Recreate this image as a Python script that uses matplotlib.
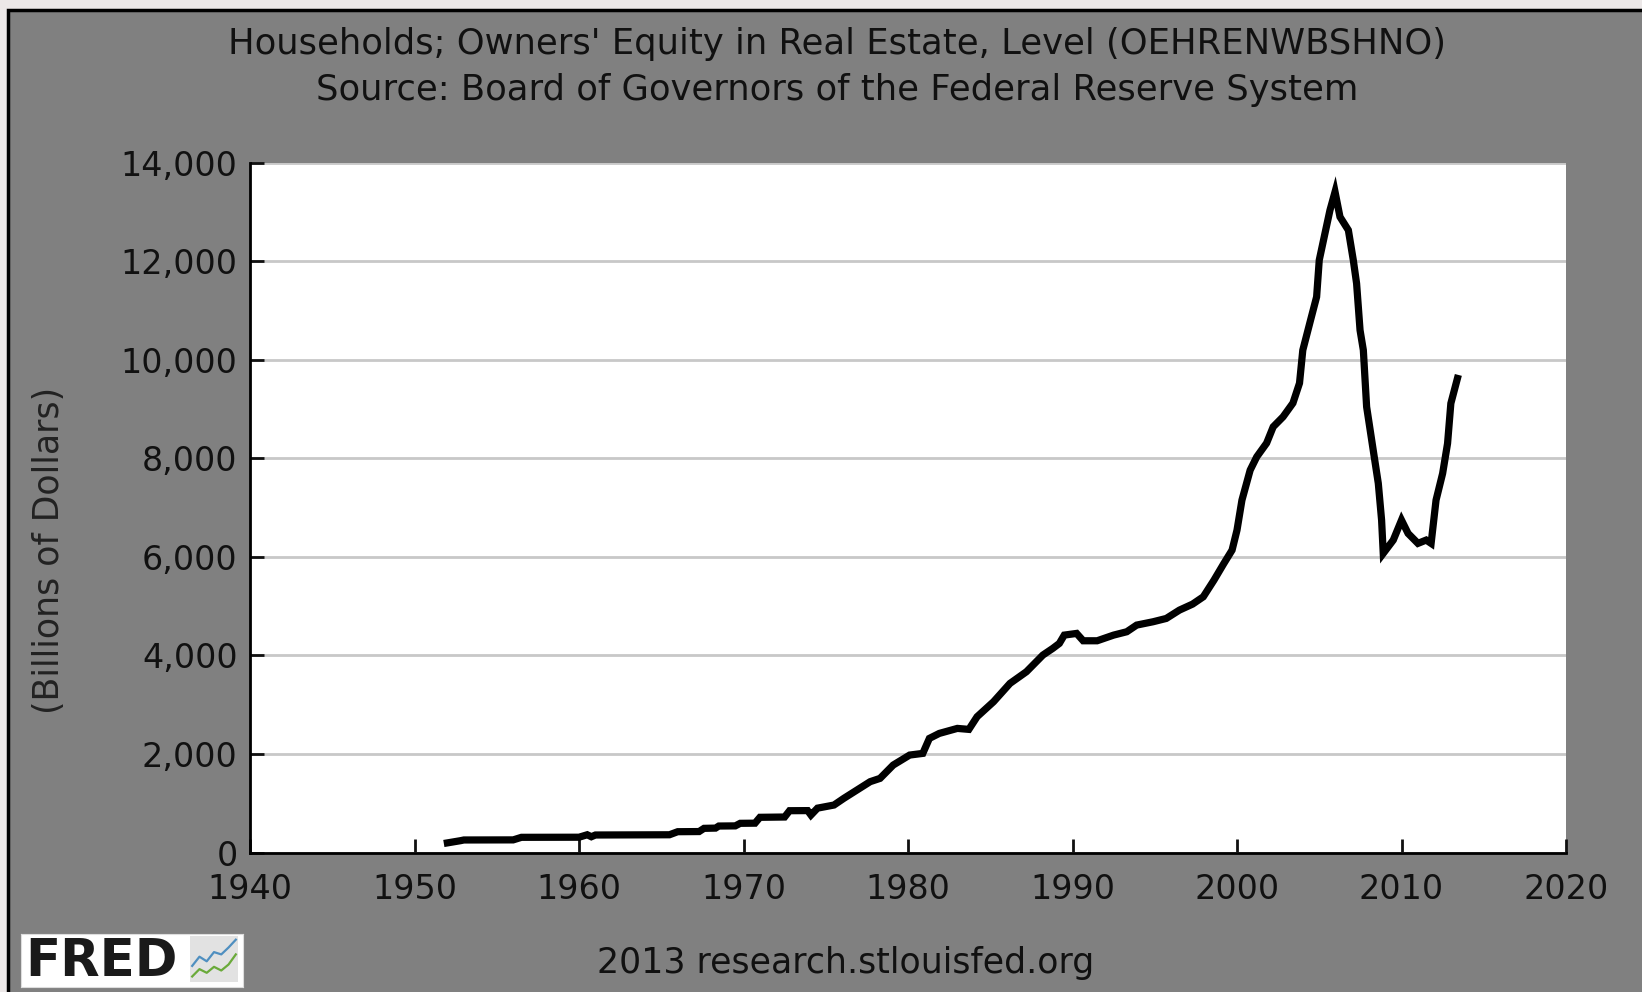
import matplotlib.pyplot as plt
from matplotlib.patches import Rectangle
from matplotlib.ticker import FuncFormatter

# owners' equity in real estate, billions of dollars
years = [1952.0, 1952.8, 1953.0, 1956.0, 1956.5, 1960.0, 1960.5, 1960.75, 1961.0,
         1965.5, 1966.0, 1967.3, 1967.6, 1968.3, 1968.5, 1969.5, 1969.8, 1970.7,
         1971.0, 1972.5, 1972.8, 1973.9, 1974.1, 1974.5, 1975.5, 1976.1, 1976.9,
         1977.7, 1978.3, 1979.1, 1980.1, 1980.9, 1981.3, 1981.9, 1983.0, 1983.7,
         1984.2, 1985.2, 1986.2, 1987.2, 1988.2, 1988.8, 1989.2, 1989.5, 1990.25,
         1990.65, 1991.5, 1992.5, 1993.3, 1993.9, 1994.9, 1995.7, 1996.5, 1997.3,
         1997.95, 1998.6, 1999.2, 1999.7, 2000.0, 2000.3, 2000.8, 2001.2, 2001.8,
         2002.2, 2002.8, 2003.4, 2003.8, 2004.0, 2004.47, 2004.84, 2005.0, 2005.35,
         2005.65, 2005.96, 2006.26, 2006.77, 2007.07, 2007.27, 2007.48, 2007.68,
         2007.88, 2008.28, 2008.59, 2008.79, 2008.89, 2009.5, 2010.0, 2010.4,
         2011.0, 2011.5, 2011.8, 2012.1, 2012.5, 2012.8, 2013.0, 2013.4]
equity = [195, 240, 254, 256, 308, 310, 360, 320, 355,
          360, 422, 425, 490, 495, 537, 540, 592, 595,
          714, 720, 848, 850, 760, 900, 963, 1099, 1268,
          1437, 1504, 1774, 1977, 2011, 2315, 2416, 2518, 2498,
          2755, 3059, 3431, 3668, 4006, 4141, 4242, 4411, 4445,
          4296, 4296, 4411, 4479, 4614, 4682, 4749, 4918, 5040,
          5188, 5526, 5864, 6135, 6541, 7149, 7758, 8028, 8306,
          8637, 8840, 9118, 9523, 10193, 10800, 11274, 12020, 12566,
          13030, 13404, 12897, 12627, 12018, 11546, 10598, 10193,
          9043, 8164, 7489, 6744, 6069, 6339, 6744, 6474,
          6272, 6339, 6272, 7150, 7691, 8300, 9112, 9619]

xticks = [1940, 1950, 1960, 1970, 1980, 1990, 2000, 2010, 2020]
yticks = [0, 2000, 4000, 6000, 8000, 10000, 12000, 14000]

# little squiggles in the FRED logo
logo_blue = [0.35, 0.55, 0.45, 0.65, 0.6, 0.75, 0.92]
logo_green = [0.12, 0.28, 0.2, 0.33, 0.25, 0.38, 0.6]

plt.rcParams['font.family'] = 'DejaVu Sans'

fig = plt.figure(figsize=(16.42, 9.92), dpi=100)
fig.patch.set_facecolor('#ece8e8')
fig.patches.append(Rectangle((8 / 1642, -0.01), 1, 1.01 - 10 / 992, transform=fig.transFigure,
                             facecolor='#808080', edgecolor='black', linewidth=2.5, zorder=-10))

ax = fig.add_axes([250 / 1642, 1 - 852.5 / 992, 1316 / 1642, 690 / 992])
ax.set_facecolor('white')
ax.plot(years, equity, color='black', linewidth=5.2, solid_joinstyle='miter', zorder=3)

ax.set_xlim(1940, 2020)
ax.set_ylim(0, 14000)
ax.set_xticks(xticks)
ax.set_yticks(yticks)
ax.yaxis.set_major_formatter(FuncFormatter(lambda v, p: f'{int(v):,}'))
ax.grid(axis='y', color='#c8c8c8', linewidth=2)
ax.set_axisbelow(True)
for s in ['top', 'right']:
    ax.spines[s].set_visible(False)
for s in ['left', 'bottom']:
    ax.spines[s].set_linewidth(2)
ax.tick_params(direction='in', length=10, width=2, labelsize=24, colors='#111111')
ax.tick_params(axis='x', pad=15)
ax.tick_params(axis='y', pad=9)

fig.text(49 / 1642, 1 - 550 / 992, '(Billions of Dollars)', rotation=90,
         ha='center', va='center', fontsize=25, color='#222222')

fig.text(0.51, 1 - 44 / 992, "Households; Owners' Equity in Real Estate, Level (OEHRENWBSHNO)",
         ha='center', va='center', fontsize=25.5, color='#111111')
fig.text(0.51, 1 - 90 / 992, 'Source: Board of Governors of the Federal Reserve System',
         ha='center', va='center', fontsize=25.5, color='#111111')
fig.text(846 / 1642, 1 - 963 / 992, '2013 research.stlouisfed.org',
         ha='center', va='center', fontsize=25, color='#111111')

# FRED logo box
logo = fig.add_axes([21 / 1642, 1 - 987 / 992, 222 / 1642, 53 / 992])
logo.set_facecolor('white')
logo.set_xticks([])
logo.set_yticks([])
for s in logo.spines.values():
    s.set_color('#dddddd')
logo.set_xlim(0, 1)
logo.set_ylim(0, 1)
logo.text(0.02, 0.47, 'FRED', fontsize=37, fontweight='heavy', color='#1a1a1a',
          ha='left', va='center', family='DejaVu Sans')
icon = fig.add_axes([190 / 1642, 1 - 982 / 992, 48 / 1642, 46 / 992])
icon.set_facecolor('#e2e2e2')
icon.plot(range(len(logo_blue)), logo_blue, color='#4f8fc0', linewidth=1.6)
icon.plot(range(len(logo_green)), logo_green, color='#6aaa3a', linewidth=1.6)
icon.set_ylim(0, 1)
icon.set_xticks([])
icon.set_yticks([])
for s in icon.spines.values():
    s.set_visible(False)

fig.savefig('out.png', dpi=100, facecolor=fig.get_facecolor())
